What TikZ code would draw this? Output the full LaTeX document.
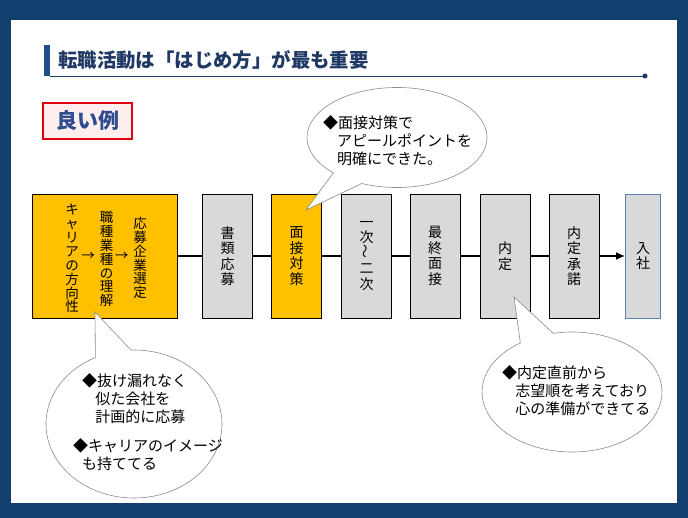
\documentclass[tikz,border=0pt]{standalone}
\usepackage{fontspec}
\setmainfont{Noto Sans CJK JP}
\usetikzlibrary{arrows.meta}

\definecolor{frameblue}{HTML}{123F6D}
\definecolor{titleblue}{HTML}{1F3864}
\definecolor{barblue}{HTML}{1F4E8C}
\definecolor{stepyellow}{HTML}{FFC000}
\definecolor{stepgray}{HTML}{D9D9D9}
\definecolor{goodblue}{HTML}{2F4C8F}
\definecolor{goodred}{HTML}{E00010}
\definecolor{goodpink}{HTML}{FFEEEE}
\definecolor{bubblegray}{HTML}{8C8C8C}
\definecolor{nyushablue}{HTML}{5B80B4}

\tikzset{
  stepbox/.style={draw=black, line width=0.9pt, minimum width=50pt, minimum height=124pt,
    inner sep=0pt, align=center, font=\fontsize{14}{15.5}\selectfont},
  coltext/.style={inner sep=0pt, align=center, font=\fontsize{13.5}{13.9}\selectfont},
  flowline/.style={line width=1.5pt, black},
  bubble/.style={draw=bubblegray, line width=0.6pt, fill=white},
  bubbletext/.style={anchor=north west, align=left, inner sep=0pt,
    font=\fontsize{15}{18.3}\selectfont}
}

\begin{document}
\begin{tikzpicture}[x=1pt, y=1pt]
  % frame
  \fill[frameblue] (0,0) rectangle (688,-518);
  \fill[white] (11,-20) rectangle (677,-503);

  % title
  \fill[barblue] (44,-45) rectangle (50,-76);
  \draw[titleblue, line width=0.9pt] (50,-76) -- (645,-76);
  \fill[titleblue] (645,-76) circle (2.5);
  \node[anchor=west, inner sep=0pt, text=titleblue, font=\fontsize{19.4}{19.4}\selectfont\bfseries]
    (title) at (58,-60) {転職活動は「はじめ方」が最も重要};

  % good example label
  \node[draw=goodred, line width=2.2pt, fill=goodpink, minimum width=89pt, minimum height=36pt,
    inner sep=0pt, text=goodblue, font=\fontsize{21}{21}\selectfont\bfseries]
    (good) at (87.5,-121) {良い例};

  % steps
  \node[stepbox, fill=stepyellow, minimum width=145pt] (career) at (104.5,-256) {};
  \node[coltext] (col1) at (72,-258.5) {キ\\ャ\\リ\\ア\\の\\方\\向\\性};
  \node[coltext] (arr1) at (88,-256.7) {→};
  \node[coltext] (col2) at (106.5,-259) {職\\種\\業\\種\\の\\理\\解};
  \node[coltext] (arr2) at (121.5,-256.7) {→};
  \node[coltext] (col3) at (140,-258) {応\\募\\企\\業\\選\\定};

  \foreach \name/\x/\col/\txt in {shorui/227.5/stepgray/{書\\類\\応\\募},
      taisaku/296.5/stepyellow/{面\\接\\対\\策},
      niji/366.5/stepgray/{一\\次\\\rotatebox{90}{～}\\二\\次},
      saishu/435/stepgray/{最\\終\\面\\接},
      naitei/505/stepgray/{内\\定},
      shodaku/574/stepgray/{内\\定\\承\\諾}}
    \node[stepbox, fill=\col] (\name) at (\x,-256) {\txt};
  \node[stepbox, draw=nyushablue, fill=stepgray, minimum width=35pt] (nyusha) at (643,-256) {入\\社};

  \foreach \a/\b in {career/shorui, shorui/taisaku, taisaku/niji, niji/saishu, saishu/naitei, naitei/shodaku}
    \draw[flowline] (\a) -- (\b);
  \draw[flowline, -{Latex[length=9pt, width=8pt]}] (shodaku) -- (nyusha);

  % callouts
  \coordinate (tcenter) at (397,-137.5);
  \coordinate (ttip) at (306,-210);
  \draw[bubble] (ttip) -- ([shift={(247:90pt and 50pt)}]tcenter)
    arc[start angle=247, end angle=585, x radius=90pt, y radius=50pt] -- cycle;
  \node[bubbletext] (ttext) at (323,-115)
    {◆面接対策で\\\hspace*{0.93em}アピールポイントを\\\hspace*{0.93em}明確にできた。};

  \coordinate (lcenter) at (134,-424);
  \coordinate (ltip) at (95,-312);
  \draw[bubble] (ltip) -- ([shift={(116:88pt and 74pt)}]lcenter)
    arc[start angle=116, end angle=452, x radius=88pt, y radius=74pt] -- cycle;
  \node[bubbletext] (ltext) at (82,-373)
    {◆抜け漏れなく\\\hspace*{0.87em}似た会社を\\\hspace*{0.87em}計画的に応募};
  \node[bubbletext] (ltext2) at (73,-438)
    {◆キャリアのイメージ\\\hspace*{0.6em}も持ててる};

  \coordinate (rcenter) at (572,-392);
  \coordinate (rtip) at (514,-297);
  \draw[bubble] (rtip) -- ([shift={(125:90pt and 60pt)}]rcenter)
    arc[start angle=125, end angle=462, x radius=90pt, y radius=60pt] -- cycle;
  \node[bubbletext] (rtext) at (502,-365)
    {◆内定直前から\\\hspace*{0.87em}志望順を考えており\\\hspace*{0.87em}心の準備ができてる};
\end{tikzpicture}
\end{document}
